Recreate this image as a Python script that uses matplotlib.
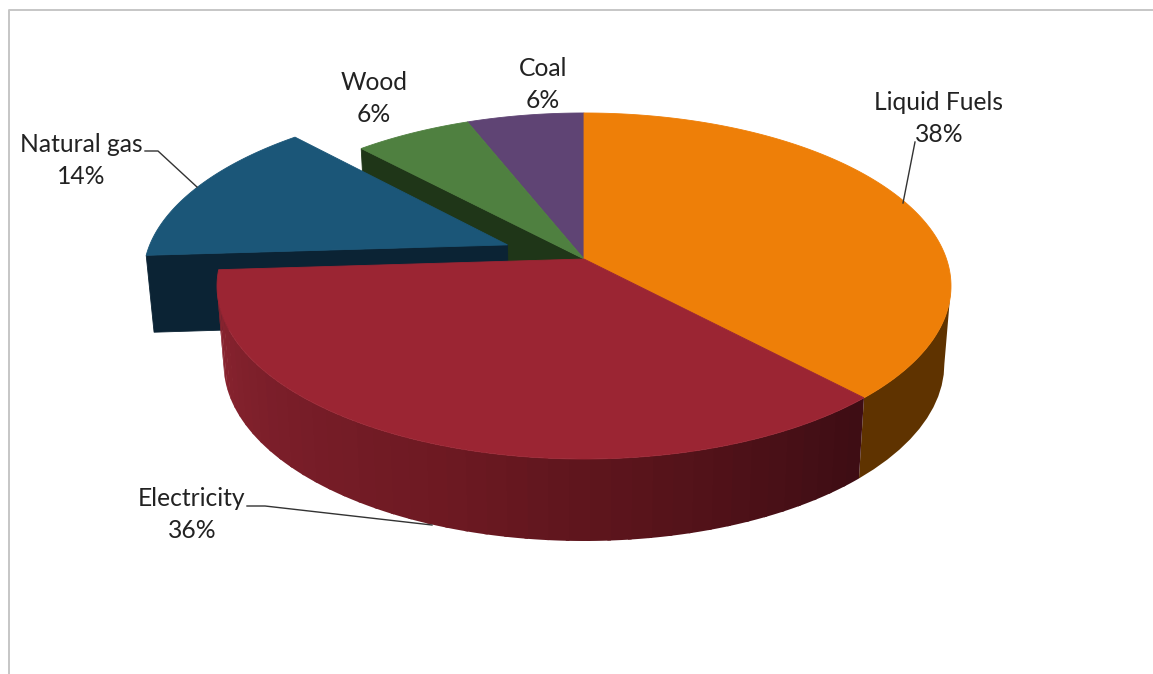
"""Exploded 3D pie of energy shares, drawn with a small perspective projection."""

import numpy as np
import matplotlib
matplotlib.use("Agg")
import matplotlib.pyplot as plt
from matplotlib.colors import LinearSegmentedColormap
from matplotlib.patches import Polygon

plt.rcParams["font.family"] = ["Lato", "DejaVu Sans"]

categories = ["Liquid Fuels", "Electricity", "Natural gas", "Wood", "Coal"]
shares = [38, 36, 14, 6, 6]
top_colors = ["#ee7f08", "#9b2533", "#1b5678", "#4f8040", "#5f4474"]
cut_colors = ["#5f3300", "#3e0d14", "#0b2334", "#1f3618", "#33243e"]
explode = [0, 0, 0.23, 0, 0]

W, H = 1153, 674
CX, CY = 584, 259
RX, RY, PERSP = 362.5, 168.8, 0.156

red_side = LinearSegmentedColormap.from_list(
    "red_side", ["#8a2430", "#7a1e29", "#6d1922", "#56131a", "#3e0d14"])


def project(x, y, bottom=False):
    """Pie-plane coords (unit circle, y away from viewer) to pixel coords."""
    x, y = np.asarray(x, float), np.asarray(y, float)
    w = 1 + PERSP * y
    sx, sy = RX * x / w, -RY * y / w
    if bottom:
        return CX + 0.982 * sx, CY + sy + 77 + (1 - w) * 32
    return CX + sx, CY + sy


def rim(a0, a1, dx=0.0, dy=0.0, n=160):
    t = np.radians(np.linspace(a0, a1, n))
    return np.sin(t) + dx, np.cos(t) + dy


def poly(ax, xs, ys, color, z, lw=0.6):
    ax.add_patch(Polygon(np.column_stack([xs, ys]), closed=True, fc=color,
                         ec=color if lw else "none", lw=lw, zorder=z))


def wall(ax, a0, a1, color, z):
    rx, ry = rim(a0, a1, n=12)
    xt, yt = project(rx, ry)
    xb, yb = project(rx, ry, bottom=True)
    poly(ax, np.r_[xt, xb[::-1]], np.r_[yt, yb[::-1]], color, z, lw=0)


fig = plt.figure(figsize=(W / 100, H / 100), dpi=100)
ax = fig.add_axes([0, 0, 1, 1])
ax.set_xlim(0, W)
ax.set_ylim(H, 0)
ax.axis("off")

# chart frame: only top and left survive the crop
ax.plot([8.5, 8.5, W], [H, 9.5, 9.5], color="#c6c6c6", lw=1.4, zorder=1)

edges = np.cumsum([0] + shares) * 3.6
offsets = []
for i, e in enumerate(explode):
    mid = np.radians((edges[i] + edges[i + 1]) / 2)
    offsets.append((e * np.sin(mid), e * np.cos(mid)))

# cut faces seen through the gap (start edge of each exploded / neighbouring slice)
for i in (3, 2):
    dx, dy = offsets[i]
    rx, ry = rim(edges[i], edges[i], dx, dy, 1)
    xt, yt = project([dx, rx[0]], [dy, ry[0]])
    xb, yb = project([dx, rx[0]], [dy, ry[0]], bottom=True)
    poly(ax, [xt[0], xt[1], xb[1], xb[0]], [yt[0], yt[1], yb[1], yb[0]], cut_colors[i], 2)

# top faces, back slices first
for i in (4, 3, 2):
    dx, dy = offsets[i]
    rx, ry = rim(edges[i], edges[i + 1], dx, dy)
    xs, ys = project(np.r_[dx, rx], np.r_[dy, ry])
    poly(ax, xs, ys, top_colors[i], 3 if i != 2 else 4)

# outer walls of the two front slices, cut at the silhouette tangent of the disc
tangent = np.degrees(np.arccos(-PERSP))
wall(ax, tangent, edges[1], cut_colors[0], 5)
n_facets = 44
red_end = min(edges[2], 360 - tangent)
steps = np.linspace(edges[1], red_end, n_facets + 1)
for k in range(n_facets):
    end = min(steps[k + 1] + 0.5, red_end)
    wall(ax, steps[k], end, red_side(1 - k / (n_facets - 1)), 5)

for i in (0, 1):
    rx, ry = rim(edges[i], edges[i + 1])
    xs, ys = project(np.r_[0, rx], np.r_[0, ry])
    poly(ax, xs, ys, top_colors[i], 6)

# data labels
label_pos = [(939, 102), (192, 498), (81, 144), (374, 83), (543, 68)]
for name, share, (lx, ly) in zip(categories, shares, label_pos):
    ax.text(lx, ly, name, ha="center", va="center", fontsize=17.7, color="#222222", zorder=8)
    ax.text(lx, ly + 32, f"{share}%", ha="center", va="center", fontsize=17.7,
            color="#222222", zorder=8)

# leader lines
for xs, ys in [([915, 903], [142, 203]),
               ([247, 265, 432], [506, 506, 525]),
               ([145, 158, 197], [151, 151, 187])]:
    ax.plot(xs, ys, color="#333333", lw=1.0, zorder=7)

fig.savefig("out.png", dpi=100)
